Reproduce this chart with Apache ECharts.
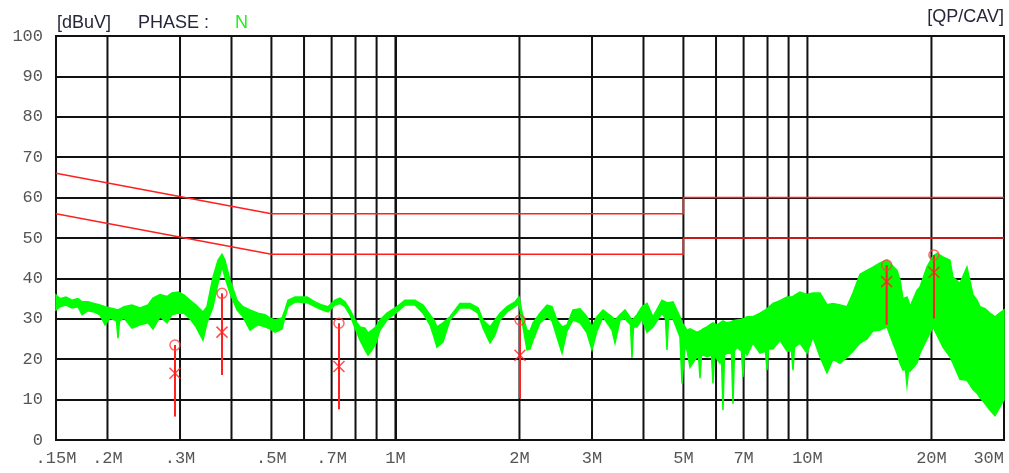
<!DOCTYPE html>
<html><head><meta charset="utf-8">
<script src="https://cdn.jsdelivr.net/npm/echarts@6/dist/echarts.min.js"></script>
<style>html,body{margin:0;padding:0;background:#fff}#c{width:1009px;height:473px}</style>
</head><body><div id="c"></div>
<script>
// ---- measured trace (MHz, dBuV): upper / lower envelope of the noisy trace ----
const traceFreqs = [
 0.15,0.1534,0.1586,0.164,0.1696,0.1735,0.1794,0.1855,0.1918,0.1973,
 0.2028,0.2103,0.2121,0.2139,0.2194,0.2294,0.2399,0.2508,0.2579,0.2682,
 0.2789,0.2868,0.2966,0.3067,0.3172,0.328,0.3411,0.3488,0.3607,0.3709,
 0.3793,0.3857,0.3967,0.4125,0.4266,0.4436,0.4639,0.4824,0.496,0.5101,
 0.5304,0.5394,0.5485,0.5704,0.61,0.6379,0.6633,0.6859,0.7133,0.7335,
 0.7543,0.7757,0.7977,0.8203,0.8435,0.8578,0.8772,0.897,0.9173,0.9539,
 1.0087,1.0548,1.1155,1.1665,1.213,1.2404,1.2614,1.3044,1.3565,1.4344,
 1.5169,1.5862,1.6312,1.6963,1.7443,1.7938,1.8654,1.9507,1.9947,2.0398,
 2.086,2.1212,2.1571,2.2431,2.3326,2.3987,2.4667,2.5366,2.6085,2.6974,
 2.805,2.9169,2.9996,3.0846,3.1898,3.3543,3.411,3.5077,3.6071,3.7197,
 3.751,3.7826,3.8573,3.9666,4.079,4.2181,4.4357,4.5233,4.5614,4.5998,
 4.7169,4.905,4.9601,5.044,5.1007,5.1869,5.3939,5.4393,5.4851,5.5313,
 5.5778,5.7039,5.8492,5.8984,5.9481,6.0318,6.1337,6.1853,6.2374,6.2899,
 6.3785,6.5409,6.596,6.6515,6.7451,6.9169,6.9751,7.0338,7.1328,7.376,
 7.6703,7.9098,7.9764,8.0436,8.2484,8.5775,8.9197,9.1468,9.2238,9.3015,
 9.5919,9.9746,10.315,10.726,11.154,11.535,11.995,12.473,12.899,13.413,
 13.948,14.424,15.0,15.598,16.13,16.495,16.773,17.057,17.296,17.442,
 17.589,17.737,18.444,18.756,19.504,20.169,20.625,21.328,22.179,22.554,
 23.454,24.39,25.222,25.792,26.228,26.971,27.735,28.521,29.329,30
];
const traceUpper = [
 35.9,35.0,35.4,34.6,35.0,34.2,34.2,33.8,33.4,33.0,
 32.7,32.3,32.2,32.4,33.0,33.4,32.7,33.4,35.1,36.0,
 35.5,36.4,36.6,35.9,34.6,33.4,31.7,33.0,40.3,44.5,
 46.0,44.5,39.6,34.6,33.0,32.2,31.4,31.0,30.2,29.7,
 30.2,32.2,34.6,35.4,35.4,34.2,33.4,33.0,34.6,35.1,
 34.2,32.2,29.7,28.0,27.7,26.5,27.2,28.0,29.7,31.4,
 33.0,34.6,34.6,33.4,31.0,29.7,28.0,29.0,30.5,33.8,
 33.8,32.7,29.7,28.0,29.7,31.4,33.0,34.2,35.4,30.5,
 27.2,27.0,29.0,31.4,33.4,33.0,29.7,28.0,28.5,32.2,
 32.5,30.5,28.0,30.5,32.2,30.5,29.7,31.0,32.2,30.2,
 29.7,30.0,31.0,33.0,33.8,30.5,34.6,34.2,34.0,34.0,
 34.2,30.5,29.0,28.0,27.2,27.5,26.7,26.8,27.0,27.2,
 27.5,28.0,28.8,29.0,28.8,28.5,29.0,29.2,29.5,29.3,
 29.0,29.3,29.5,29.6,29.7,29.9,30.0,30.1,30.5,30.5,
 31.4,32.2,32.5,32.8,33.8,34.5,35.4,35.4,35.5,35.8,
 36.6,36.0,36.4,36.4,33.5,33.8,33.4,33.0,36.4,41.0,
 42.0,42.8,43.8,44.5,43.0,42.0,39.6,35.0,35.2,35.4,
 34.5,33.0,37.0,37.9,42.8,45.5,46.2,45.3,44.5,40.3,
 38.8,42.8,36.0,34.6,33.0,32.5,31.4,30.5,31.5,32.2
];
const traceLower = [
 32.2,33.0,33.4,32.7,33.0,31.0,32.0,31.7,31.0,28.5,
 30.2,29.5,25.2,29.5,30.2,27.7,28.5,29.0,27.5,30.5,
 29.0,31.0,31.4,31.4,30.0,28.0,24.7,29.0,33.0,38.8,
 43.0,40.3,36.4,32.2,30.5,27.2,28.5,28.0,27.5,26.7,
 27.5,30.5,33.0,34.2,34.0,33.0,32.2,31.7,33.4,33.8,
 33.0,31.0,27.7,24.7,22.3,21.0,22.3,24.0,27.2,29.7,
 31.7,33.4,33.4,31.4,28.5,25.5,23.0,24.3,29.7,32.7,
 32.7,31.4,27.7,24.0,26.0,29.7,31.7,33.0,33.8,28.0,
 22.3,22.5,24.7,29.0,30.5,29.5,25.5,21.5,27.0,29.7,
 29.0,26.5,22.3,27.0,30.5,27.2,24.0,29.7,30.0,28.5,
 20.3,28.0,28.0,30.0,26.7,28.0,31.4,30.0,22.3,30.0,
 30.0,25.5,14.0,23.0,22.3,18.0,20.6,21.0,15.3,21.0,
 21.0,20.6,21.0,14.0,21.0,20.0,19.0,20.5,7.4,21.0,
 21.5,21.5,9.0,22.0,23.0,22.0,15.6,22.0,21.0,24.0,
 21.5,22.0,17.3,22.5,22.5,24.7,22.0,22.0,17.3,23.0,
 24.0,21.5,25.5,20.6,16.6,20.0,19.0,20.5,22.0,24.0,
 25.0,27.0,27.2,28.0,24.0,21.5,19.0,17.3,17.5,13.6,
 17.0,17.0,19.0,21.5,25.0,28.0,26.0,23.0,20.6,19.0,
 15.0,14.8,12.5,11.6,10.5,9.0,7.4,6.0,8.2,10.0
];

// ---- limit lines ----
const qpLimitFreqs = [0.15, 0.5, 5, 5, 30];
const qpLimitVals  = [66, 56, 56, 60, 60];
const avLimitFreqs = [0.15, 0.5, 5, 5, 30];
const avLimitVals  = [56, 46, 46, 50, 50];

// ---- final measurement markers ----
const markerFreqs = [0.2917, 0.3793, 0.7294, 2.006, 15.57, 20.28];
const qpValues    = [23.5, 36.3, 28.9, 29.7, 43.3, 45.8];
const avValues    = [16.5, 26.7, 18.2, 21.0, 39.2, 41.5];
const stemBottoms = [5.8, 16.1, 7.6, 10.3, 28.5, 30.1];

// ---- axes ----
const gridFreqs  = [0.2,0.3,0.4,0.5,0.6,0.7,0.8,0.9,1,2,3,4,5,6,7,8,9,10,20];
const labelFreqs = [0.15,0.2,0.3,0.5,0.7,1,2,3,5,7,10,20,30];
const labelTexts = ['.15M','.2M','.3M','.5M','.7M','1M','2M','3M','5M','7M','10M','20M','30M'];
const yTicks = [0,10,20,30,40,50,60,70,80,90,100];

const L = Math.log10;
const chart = echarts.init(document.getElementById('c'));
const monoLabel = {fontFamily:'"Liberation Mono", monospace', fontSize:17, color:'#555'};

chart.setOption({
  animation:false,
  grid:{left:56,right:5,top:36,bottom:33,show:true,borderColor:'#111',borderWidth:2,backgroundColor:'#fff'},
  graphic:[
    {type:'text',left:57,top:14,style:{text:'[dBuV]',font:'18px "Liberation Sans", Arial',fill:'#26263a'}},
    {type:'text',left:138,top:14,style:{text:'PHASE :',font:'18px "Liberation Sans", Arial',fill:'#26263a'}},
    {type:'text',left:235,top:14,style:{text:'N',font:'18px "Liberation Sans", Arial',fill:'#22ee22'}},
    {type:'text',right:5,top:8,style:{text:'[QP/CAV]',font:'18px "Liberation Sans", Arial',fill:'#26263a'}}
  ],
  xAxis:{
    type:'value', min:L(0.15), max:L(30),
    axisLine:{show:false}, axisTick:{show:false}, splitLine:{show:false},
    axisLabel:Object.assign({
      customValues: labelFreqs.map(L),
      margin:10, showMinLabel:true, showMaxLabel:true, alignMaxLabel:'right',
      formatter:function(v){
        for (let i=0;i<labelFreqs.length;i++){ if (Math.abs(L(labelFreqs[i])-v)<1e-6) return labelTexts[i]; }
        return '';
      }
    }, monoLabel)
  },
  yAxis:{
    type:'value', min:yTicks[0], max:yTicks[yTicks.length-1], interval:10,
    axisLine:{show:true,lineStyle:{color:'#111',width:2}}, axisTick:{show:false},
    splitLine:{show:true,lineStyle:{color:'#111',width:2}},
    axisLabel:Object.assign({margin:13}, monoLabel)
  },
  series:[
    { // vertical grid lines
      type:'custom', z:1, silent:true,
      data: gridFreqs.map(f=>[L(f),0]),
      encode:{x:0,y:1},
      renderItem:function(p,api){
        const a=api.coord([api.value(0),0]), b=api.coord([api.value(0),100]);
        return {type:'line',shape:{x1:a[0],y1:a[1],x2:b[0],y2:b[1]},style:{stroke:'#111',lineWidth:2}};
      }
    },
    { // measured trace drawn as its noise band
      type:'custom', z:3, silent:true,
      data:[[L(traceFreqs[0]), traceUpper[0]]],
      encode:{x:0,y:1},
      renderItem:function(p,api){
        const pts=[];
        for (let i=0;i<traceFreqs.length;i++) pts.push(api.coord([L(traceFreqs[i]),traceUpper[i]]));
        for (let i=traceFreqs.length-1;i>=0;i--) pts.push(api.coord([L(traceFreqs[i]),traceLower[i]]));
        return {type:'polygon',shape:{points:pts},style:{fill:'#00ff00',stroke:'#00ff00',lineWidth:1.5}};
      }
    },
    {
      type:'line', z:4, silent:true, showSymbol:false,
      data: qpLimitFreqs.map((f,i)=>[L(f),qpLimitVals[i]]),
      lineStyle:{color:'#ff2020',width:1.5}
    },
    {
      type:'line', z:4, silent:true, showSymbol:false,
      data: avLimitFreqs.map((f,i)=>[L(f),avLimitVals[i]]),
      lineStyle:{color:'#ff2020',width:1.5}
    },
    { // marker stems
      type:'custom', z:5, silent:true,
      data: markerFreqs.map((f,i)=>[L(f),qpValues[i],stemBottoms[i]]),
      encode:{x:0,y:[1,2]},
      renderItem:function(p,api){
        const a=api.coord([api.value(0),api.value(1)]), b=api.coord([api.value(0),api.value(2)]);
        return {type:'line',shape:{x1:a[0],y1:a[1],x2:b[0],y2:b[1]},style:{stroke:'#ff2020',lineWidth:2}};
      }
    },
    {
      type:'scatter', z:6, silent:true,
      data: markerFreqs.map((f,i)=>[L(f),qpValues[i]]),
      symbol:'circle', symbolSize:10,
      itemStyle:{color:'rgba(255,255,255,0)',borderColor:'#ff4040',borderWidth:1.5}
    },
    {
      type:'scatter', z:6, silent:true,
      data: markerFreqs.map((f,i)=>[L(f),avValues[i]]),
      symbol:'path://M0,0L10,10M10,0L0,10', symbolSize:11,
      itemStyle:{color:'rgba(255,255,255,0)',borderColor:'#ff2020',borderWidth:1.5}
    }
  ]
});
</script>
</body></html>
